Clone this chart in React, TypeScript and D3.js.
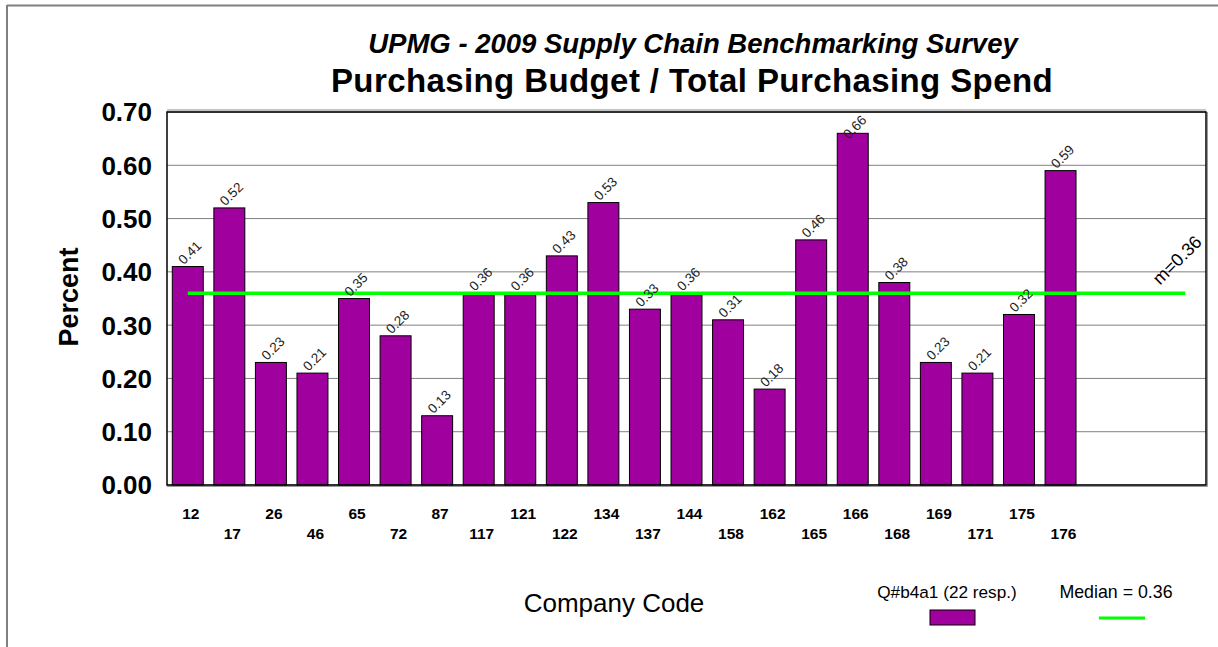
import React from "react";
import * as d3 from "d3";

const companies = ["12","17","26","46","65","72","87","117","121","122","134","137","144","158","162","165","166","168","169","171","175","176"];
const values = [0.41,0.52,0.23,0.21,0.35,0.28,0.13,0.36,0.36,0.43,0.53,0.33,0.36,0.31,0.18,0.46,0.66,0.38,0.23,0.21,0.32,0.59];
const emptySlots = ["e1","e2","e3"];
const yTicks = [0,0.1,0.2,0.3,0.4,0.5,0.6,0.7];
const median = 0.36;
const titleLine1 = "UPMG - 2009 Supply Chain Benchmarking Survey";
const titleLine2 = "Purchasing Budget / Total Purchasing Spend";
const seriesName = "Q#b4a1 (22 resp.)";
const medianName = "Median = 0.36";

const W = 1218, H = 647;
const plot = { left: 167, right: 1206, top: 112, bottom: 485 };
const FONT = "'Liberation Sans', Arial, sans-serif";
const PURPLE = "#A0009E";
const GREEN = "#00FF00";

export default function App() {
  const slots = [...companies, ...emptySlots];
  const x = d3.scaleBand<string>().domain(slots).range([plot.left, plot.right]).paddingInner(0.255).paddingOuter(0.1275);
  const y = d3.scaleLinear().domain([0, 0.7]).range([plot.bottom, plot.top]);
  const bw = x.bandwidth();
  const step = x.step();
  const cx = (c: string) => (x(c) as number) + bw / 2;
  const firstC = plot.left + step / 2;
  const lastC = plot.right - step / 2;

  return (
    <svg width={W} height={H} style={{ position: "absolute", left: 0, top: 0, background: "#fff" }} fontFamily={FONT}>
      <rect x={0} y={0} width={W} height={H} fill="#fff" />
      {/* outer border */}
      <line x1={7} x2={W} y1={5.5} y2={5.5} stroke="#808080" strokeWidth={2} />
      <line x1={7} x2={7} y1={5} y2={H} stroke="#808080" strokeWidth={2} />

      {/* titles */}
      <text x={693} y={53} textAnchor="middle" fontSize={27.5} fontWeight="bold" fontStyle="italic">{titleLine1}</text>
      <text x={692} y={92} textAnchor="middle" fontSize={33} fontWeight="bold" letterSpacing={0.4}>{titleLine2}</text>

      {/* gridlines */}
      {yTicks.map((t) => (
        <line key={"g" + t} x1={plot.left} x2={plot.right} y1={y(t)} y2={y(t)} stroke="#808080" strokeWidth={1} />
      ))}

      {/* y tick labels */}
      {yTicks.map((t) => (
        <text key={"yt" + t} x={152} y={y(t)} dy="0.36em" textAnchor="end" fontSize={26} fontWeight="bold">{t.toFixed(2)}</text>
      ))}

      {/* bars */}
      {companies.map((c, i) => (
        <rect key={"b" + c} x={x(c)} y={y(values[i])} width={bw} height={plot.bottom - y(values[i])} fill={PURPLE} stroke="#000" strokeWidth={1} />
      ))}

      {/* median line */}
      <line x1={firstC} x2={lastC} y1={y(median)} y2={y(median)} stroke={GREEN} strokeWidth={3.5} />

      {/* data labels */}
      {companies.map((c, i) => {
        const ly = Math.max(y(values[i]) - 14, plot.top + 15);
        const lx = cx(c) + 2;
        return (
          <text key={"l" + c} x={lx} y={ly} textAnchor="middle" dy="0.35em" fontSize={13.5} fill="#222" transform={`rotate(-45 ${lx} ${ly})`}>
            {values[i].toFixed(2)}
          </text>
        );
      })}

      {/* median label */}
      <text x={1177} y={260} textAnchor="middle" dy="0.35em" fontSize={18} transform="rotate(-45 1177 260)">m=0.36</text>

      {/* plot border */}
      <rect x={plot.left} y={plot.top} width={plot.right - plot.left} height={plot.bottom - plot.top} fill="none" stroke="#000" strokeWidth={1.5} />
      <line x1={plot.left} x2={plot.right} y1={plot.top - 2} y2={plot.top - 2} stroke="#888" strokeWidth={1} />
      <line x1={plot.right + 1.5} x2={plot.right + 1.5} y1={plot.top} y2={plot.bottom + 1.5} stroke="#999" strokeWidth={1} />
      <line x1={plot.left} x2={plot.right + 1.5} y1={plot.bottom + 1.5} y2={plot.bottom + 1.5} stroke="#999" strokeWidth={1} />

      {/* x tick labels */}
      {companies.map((c, i) => (
        <text key={"xt" + c} x={cx(c) + 3} y={i % 2 === 0 ? 513 : 533} dy="0.36em" textAnchor="middle" fontSize={15.5} fontWeight="bold">{c}</text>
      ))}

      {/* axis titles */}
      <text x={614} y={612} textAnchor="middle" fontSize={26}>Company Code</text>
      <text transform="translate(78 297) rotate(-90)" textAnchor="middle" fontSize={27} fontWeight="bold">Percent</text>

      {/* legend */}
      <text x={947} y={592} dy="0.36em" textAnchor="middle" fontSize={17.2}>{seriesName}</text>
      <rect x={930} y={610} width={45} height={15} fill={PURPLE} stroke="#000" strokeWidth={1} />
      <text x={1116} y={592} dy="0.36em" textAnchor="middle" fontSize={17.8}>{medianName}</text>
      <line x1={1099} x2={1145} y1={618} y2={618} stroke={GREEN} strokeWidth={3} />
    </svg>
  );
}
